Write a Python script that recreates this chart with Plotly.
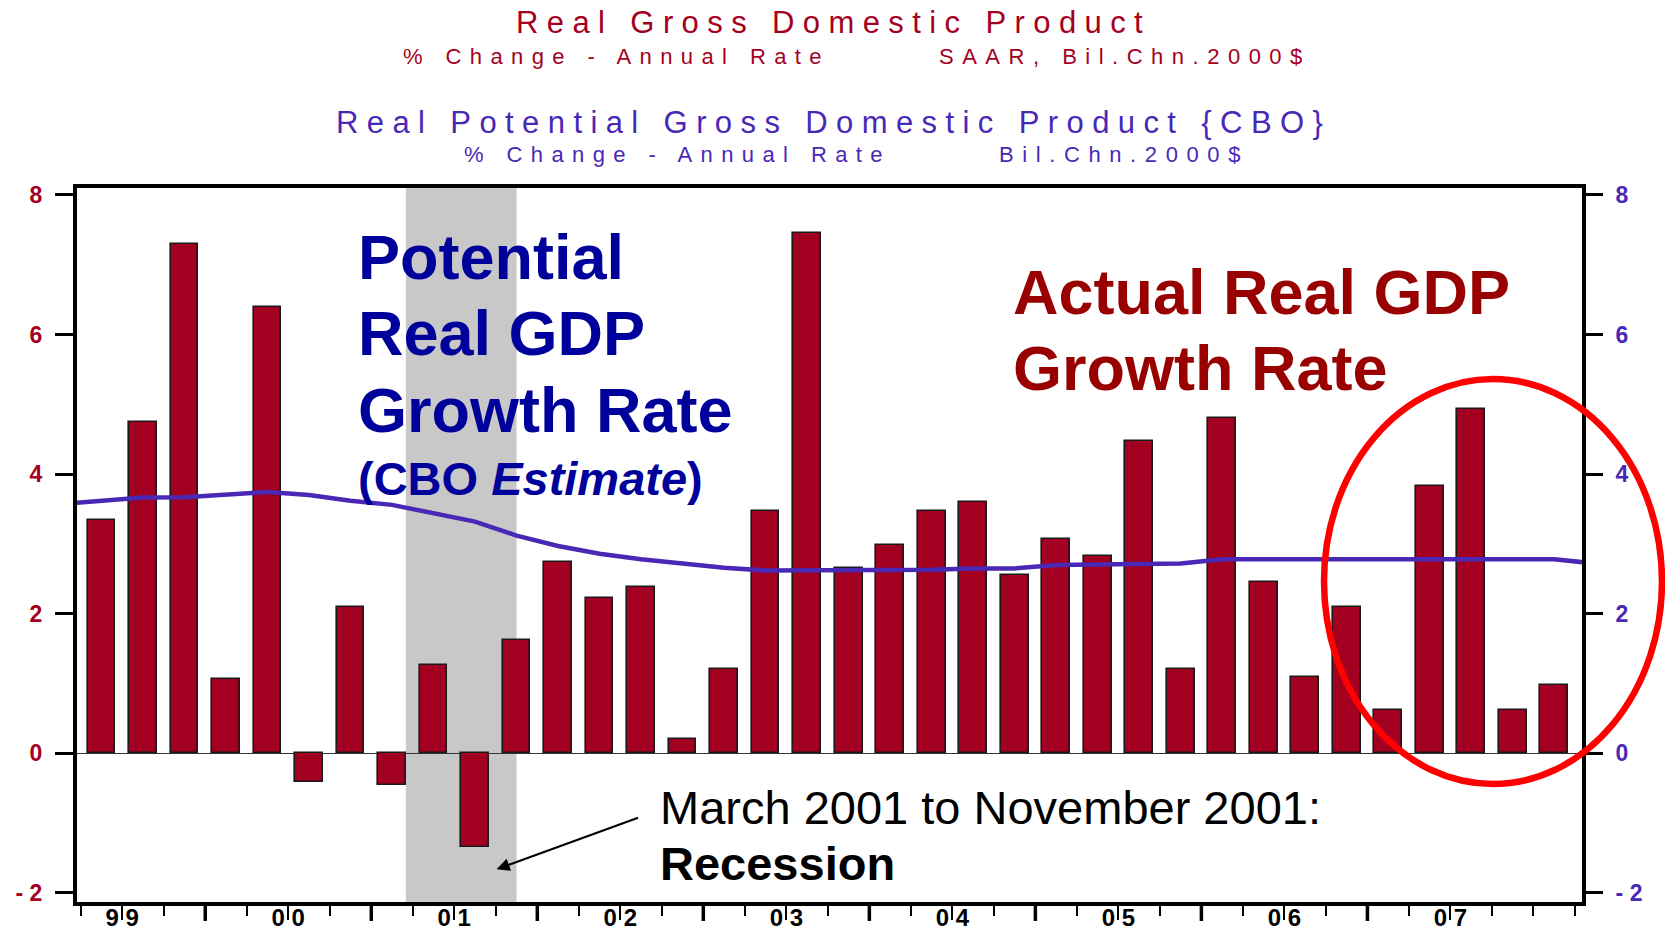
import plotly.graph_objects as go

# ---------------- data ----------------
quarters = ["1999Q2", "1999Q3", "1999Q4",
            "2000Q1", "2000Q2", "2000Q3", "2000Q4",
            "2001Q1", "2001Q2", "2001Q3", "2001Q4",
            "2002Q1", "2002Q2", "2002Q3", "2002Q4",
            "2003Q1", "2003Q2", "2003Q3", "2003Q4",
            "2004Q1", "2004Q2", "2004Q3", "2004Q4",
            "2005Q1", "2005Q2", "2005Q3", "2005Q4",
            "2006Q1", "2006Q2", "2006Q3", "2006Q4",
            "2007Q1", "2007Q2", "2007Q3", "2007Q4",
            "2008Q1"]
real_gdp = [3.35, 4.75, 7.30,
            1.06, 6.40, -0.41, 2.10,
            -0.46, 1.26, -1.34, 1.62,
            2.74, 2.22, 2.38, 0.21,
            1.21, 3.47, 7.45, 2.66,
            2.99, 3.47, 3.60, 2.56,
            3.07, 2.83, 4.47, 1.21,
            4.80, 2.45, 1.10, 2.10,
            0.62, 3.83, 4.93, 0.62,
            0.98]

potential_quarters = ["1999Q1"] + quarters + ["2008Q2"]
potential_gdp = [3.57,
                 3.62, 3.665, 3.67,
                 3.70, 3.745, 3.70, 3.62,
                 3.56, 3.44, 3.32, 3.12,
                 2.97, 2.86, 2.78, 2.72,
                 2.66, 2.62, 2.62, 2.62,
                 2.62, 2.63, 2.65, 2.65,
                 2.70, 2.71, 2.72, 2.72,
                 2.78, 2.78, 2.78, 2.78,
                 2.78, 2.78, 2.78, 2.78,
                 2.78,
                 2.72]

years = ["1999", "2000", "2001", "2002", "2003", "2004", "2005", "2006", "2007"]
year_labels = ["9 9", "0 0", "0 1", "0 2", "0 3", "0 4", "0 5", "0 6", "0 7"]

y_ticks = [-2, 0, 2, 4, 6, 8]
y_ticktext = ["- 2", "0", "2", "4", "6", "8"]

# Recession: March 2001 to November 2001 (year, month)
recession_start = (2001, 3)
recession_end = (2001, 11)

# ---------------- positions from the quarter scale ----------------
all_quarters = potential_quarters
qpos = {q: i - 1 for i, q in enumerate(all_quarters)}   # 1999Q2 -> 0


def month_pos(ym):
    y, m = ym
    q = (m - 1) // 3 + 1
    base = qpos["%dQ%d" % (y, q)] - 0.5
    return base + ((m - 1) % 3 + 0.5) / 3.0


x_bars = [qpos[q] for q in quarters]
x_pot = [qpos[q] for q in potential_quarters]
year_centers = [qpos[y + "Q1"] + 1.5 for y in years]
year_bounds = [qpos[y + "Q4"] + 0.5 for y in years[:-1]]
all_bounds = [qpos[q] + 0.5 for q in all_quarters[:-1]]
minor_ticks = [b for b in all_bounds if b not in year_bounds and b not in year_centers]

X_RANGE = [-0.59, 35.67]
Y_RANGE = [-2.13, 8.1]

# ---------------- styling ----------------
BAR = "#A30021"
RED_TXT = "#A50021"
PURPLE = "#4A28B6"
NAVY = "#00009A"
DARKRED = "#990000"
SANS = "Liberation Sans, Arial, sans-serif"

W, H = 1665, 933
ML, MR, MT, MB = 77, 83, 188, 31
PW, PH = W - ML - MR, H - MT - MB


def px(x):
    return (x - ML) / PW


def py(y):
    return (H - MB - y) / PH


fig = go.Figure()

fig.add_trace(go.Bar(
    x=x_bars, y=real_gdp, width=0.67,
    marker=dict(color=BAR, line=dict(color="#1a1a1a", width=1.6)),
    name="Real GDP", showlegend=False, hoverinfo="x+y",
))
fig.add_trace(go.Scatter(
    x=x_pot, y=potential_gdp, mode="lines",
    line=dict(color=PURPLE, width=4.5),
    yaxis="y2", name="Potential GDP", showlegend=False,
))

shapes = []
# recession shading
shapes.append(dict(type="rect", xref="x", yref="paper",
                   x0=month_pos(recession_start), x1=month_pos(recession_end),
                   y0=0, y1=1, fillcolor="#C8C8C8", line=dict(width=0), layer="below"))
# year-boundary heavy ticks
for b in year_bounds:
    shapes.append(dict(type="line", xref="x", yref="paper", x0=b, x1=b,
                       y0=-3 / PH, y1=-19 / PH, line=dict(color="black", width=3.5)))
# red ellipse
shapes.append(dict(type="circle", xref="paper", yref="paper",
                   x0=px(1324), x1=px(1662), y0=py(784), y1=py(379),
                   line=dict(color="#FF0000", width=6.5)))

ann = []


def add_text(text, x, y, size, color, bold=False, xanchor="left", family=SANS):
    t = "<b>%s</b>" % text if bold else text
    ann.append(dict(text=t, x=px(x), y=py(y), xref="paper", yref="paper",
                    xanchor=xanchor, yanchor="middle", showarrow=False,
                    font=dict(size=size, color=color, family=family)))


def spaced(text, ls):
    return '<span style="letter-spacing:%.1fpx">%s</span>' % (ls, text)


# Header titles (letter-spaced)
add_text(spaced("Real Gross Domestic Product", 8.4), 833, 23, 31, RED_TXT, xanchor="center")
add_text(spaced("% Change - Annual Rate", 8.4), 616, 56, 22, RED_TXT, xanchor="center")
add_text(spaced("SAAR, Bil.Chn.2000$", 8.5), 1125, 56, 22, RED_TXT, xanchor="center")
add_text(spaced("Real Potential Gross Domestic Product {CBO}", 8.45), 833, 122, 31, PURPLE, xanchor="center")
add_text(spaced("% Change - Annual Rate", 8.4), 677, 155, 22, PURPLE, xanchor="center")
add_text(spaced("Bil.Chn.2000$", 8.6), 1124, 155, 22, PURPLE, xanchor="center")

# In-chart labels
add_text("Potential", 356, 257, 63, NAVY, bold=True)
add_text("Real GDP", 356, 333, 63, NAVY, bold=True)
add_text("Growth Rate", 356, 410, 63, NAVY, bold=True)
add_text("(CBO <i>Estimate</i>)", 356, 478, 47, NAVY, bold=True)
add_text("Actual Real GDP", 1011, 292, 63, DARKRED, bold=True)
add_text("Growth Rate", 1011, 368, 63, DARKRED, bold=True)
add_text("March 2001 to November 2001:", 658, 807, 47, "black")
add_text("Recession", 658, 863, 47, "black", bold=True)

# arrow pointing at the recession
ann.append(dict(text="", x=month_pos(recession_end) - 0.48, y=-1.66, xref="x", yref="y",
                ax=143, ay=-52, axref="pixel", ayref="pixel", showarrow=True,
                arrowhead=2, arrowsize=1.3, arrowwidth=2, arrowcolor="black"))

fig.update_layout(
    width=W, height=H,
    margin=dict(l=ML, r=MR, t=MT, b=MB, autoexpand=False),
    paper_bgcolor="white", plot_bgcolor="white",
    bargap=0, showlegend=False,
    shapes=shapes, annotations=ann,
    xaxis=dict(range=X_RANGE, showgrid=False, zeroline=False, automargin=False,
               showline=True, linecolor="black", linewidth=4, mirror=True,
               tickmode="array", tickvals=year_centers,
               ticktext=["<b>%s</b>" % t for t in year_labels],
               ticks="outside", ticklen=14, tickwidth=1.5, tickcolor="black",
               ticklabelstandoff=-23,
               tickfont=dict(family=SANS, size=24, color="black"),
               minor=dict(tickmode="array", tickvals=minor_ticks, ticks="outside",
                          ticklen=10, tickwidth=1.5, tickcolor="black", showgrid=False)),
    yaxis=dict(range=Y_RANGE, showgrid=False, automargin=False,
               zeroline=True, zerolinecolor="#333333", zerolinewidth=1.2,
               showline=True, linecolor="black", linewidth=4,
               tickmode="array", tickvals=y_ticks,
               ticktext=["<b>%s</b>" % t for t in y_ticktext],
               ticks="outside", ticklen=18, tickwidth=3, tickcolor="black",
               ticklabelstandoff=8,
               tickfont=dict(family=SANS, size=23, color=RED_TXT)),
    yaxis2=dict(range=Y_RANGE, overlaying="y", side="right", showgrid=False, zeroline=False,
                automargin=False,
                showline=True, linecolor="black", linewidth=4,
                tickmode="array", tickvals=y_ticks,
                ticktext=["<b>%s</b>" % t for t in y_ticktext],
                ticks="outside", ticklen=17, tickwidth=3, tickcolor="black",
                ticklabelstandoff=8,
                tickfont=dict(family=SANS, size=23, color=PURPLE)),
)

fig.write_html("out.html")
